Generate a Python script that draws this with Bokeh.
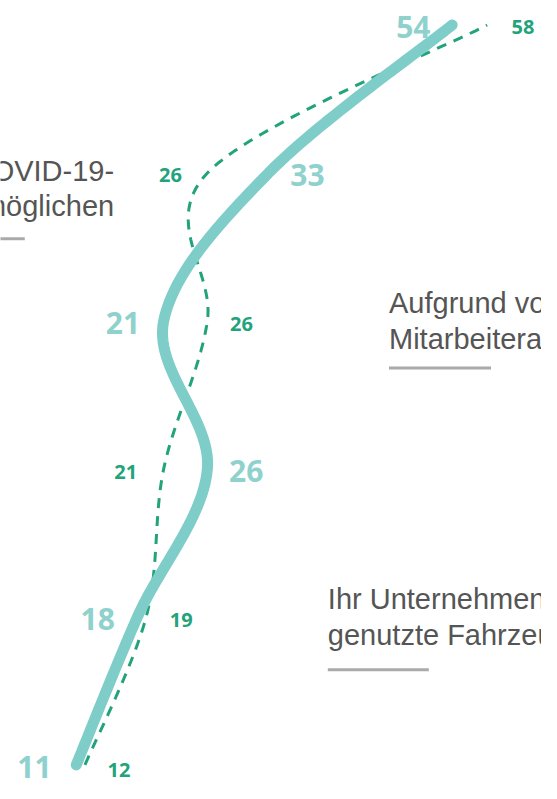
import numpy as np
from bokeh.plotting import figure
from bokeh.models import Range1d
from bokeh.core.properties import value
from bokeh.embed import file_html
from bokeh.resources import INLINE

# rows from bottom (0) to top (5)
rows = [0, 1, 2, 3, 4, 5]
series_a = [11, 18, 26, 21, 33, 54]   # solid light teal
series_b = [12, 19, 21, 26, 26, 58]   # dashed green

text_left = ["COVID-19-", "möglichen"]
text_mid = ["Aufgrund von", "Mitarbeiterausfällen"]
text_low = ["Ihr Unternehmen", "genutzte Fahrzeuge"]

SOLID = "#7fcdc8"
SOLID_LBL = "#8fd2cd"
DASH = "#22a37b"
GRAY = "#555555"
RULE = "#aaaaaa"

W, H = 541, 783
SX = W / 557.0
SY = H / 799.0

label_a_offsets = [o * SX for o in [-43, -41, 40, -42, 40, -40]]
label_b_offsets = [o * SX for o in [35, 36, -39, 35, -38, 37]]


def smooth(xs, ys, n=30):
    pts = np.column_stack([xs, ys]).astype(float)
    out = []
    m = len(pts)
    for i in range(m - 1):
        p0 = pts[i - 1] if i > 0 else pts[i]
        p1 = pts[i]
        p2 = pts[i + 1]
        p3 = pts[i + 2] if i + 2 < m else pts[i + 1]
        c1 = p1 + (p2 - p0) / 6.0
        c2 = p2 - (p3 - p1) / 6.0
        t = np.linspace(0, 1, n)[:, None]
        seg = ((1 - t) ** 3) * p1 + 3 * ((1 - t) ** 2) * t * c1 + 3 * (1 - t) * t ** 2 * c2 + t ** 3 * p2
        out.append(seg if i == 0 else seg[1:])
    arr = np.vstack(out)
    return arr[:, 0], arr[:, 1]


# reference pixel mapping: ref_x = -21 + 9*v ; ref_y = 780 - 151*r
def px_to_x(px):
    return (px + 21) / 9.0


def py_to_y(py):
    return (780 - py) / 151.0


p = figure(width=W, height=H, output_backend="svg", toolbar_location=None,
           x_range=Range1d(px_to_x(0), px_to_x(557)),
           y_range=Range1d(py_to_y(799), py_to_y(0)),
           min_border=0, outline_line_color=None)
p.axis.visible = False
p.grid.visible = False
p.background_fill_color = "white"
p.border_fill_color = "white"

bx, by = smooth(series_b, rows)
p.line(bx, by, line_color=DASH, line_width=3, line_dash="10 8")
ax, ay = smooth(series_a, rows)
p.line(ax, ay, line_color=SOLID, line_width=11, line_cap="round")

p.text(x=series_a, y=rows, text=[str(v) for v in series_a], x_offset=label_a_offsets,
       y_offset=[2] * 6, text_align="center", text_baseline="middle",
       text_font=value("Open Sans"), text_font_style="bold", text_font_size="30px",
       text_color=SOLID_LBL)
p.text(x=series_b, y=rows, text=[str(v) for v in series_b], x_offset=label_b_offsets,
       y_offset=[5, 3, 3, 3, 2, 2], text_align="center", text_baseline="middle",
       text_font=value("Open Sans"), text_font_style="bold", text_font_size="20px",
       text_color=DASH)

FS = "29px"
FONT = value("Liberation Sans")

p.text(x=[px_to_x(117)] * 2, y=[py_to_y(174), py_to_y(210)], text=text_left,
       text_align="right", text_baseline="middle", text_font=FONT,
       text_font_size=FS, text_color=GRAY)
p.segment(x0=[px_to_x(-5)], y0=[py_to_y(243)], x1=[px_to_x(25)], y1=[py_to_y(243)],
          line_color=RULE, line_width=3)

p.text(x=[px_to_x(400)] * 2, y=[py_to_y(309), py_to_y(345)], text=text_mid,
       text_align="left", text_baseline="middle", text_font=FONT,
       text_font_size=FS, text_color=GRAY)
p.segment(x0=[px_to_x(400)], y0=[py_to_y(375)], x1=[px_to_x(505)], y1=[py_to_y(375)],
          line_color=RULE, line_width=3)

p.text(x=[px_to_x(337)] * 2, y=[py_to_y(611), py_to_y(647)], text=text_low,
       text_align="left", text_baseline="middle", text_font=FONT,
       text_font_size=FS, text_color=GRAY)
p.segment(x0=[px_to_x(337)], y0=[py_to_y(683)], x1=[px_to_x(441)], y1=[py_to_y(683)],
          line_color=RULE, line_width=3)

open("out.html", "w").write(file_html(p, INLINE))
